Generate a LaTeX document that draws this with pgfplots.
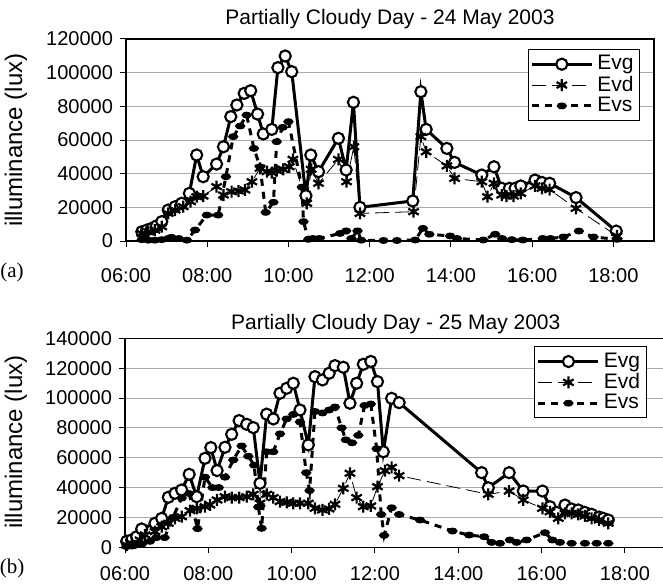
\documentclass[border=0pt]{standalone}
\usepackage{fontspec}
\setmainfont{Liberation Sans}
\newfontfamily\serifab{Liberation Serif}
\usepackage{pgfplots}
\pgfplotsset{compat=1.18}

\pgfplotsset{
  illum/.style={
    scale only axis,
    xmin=6, xmax=19, ymin=0,
    scaled y ticks=false,
    xtick={6,8,...,18},
    xticklabels={06:00,08:00,10:00,12:00,14:00,16:00,18:00},
    tick align=outside, major tick length=3pt,
    xtick pos=bottom, ytick pos=left,
    ymajorgrids, grid style={gray!65, line width=0.5pt},
    axis line style={line width=0.6pt},
    tick style={black, line width=0.5pt},
    tick label style={font=\fontsize{10}{11}\selectfont},
    legend cell align=left,
    legend style={font=\fontsize{10.5}{11}\selectfont, draw=black, line width=0.5pt,
      inner sep=1pt, row sep=-2.5pt},
    legend image code/.code={\draw[#1,mark repeat=2,mark phase=2] plot coordinates {(0pt,0pt)(15pt,0pt)(30pt,0pt)};},
  },
  evg/.style={black, line width=1.5pt, mark=*, mark size=2.8pt,
    mark options={solid, fill=white, line width=1.05pt}},
  evd/.style={black, line width=0.4pt, dash pattern=on 7pt off 3pt, mark=asterisk,
    mark size=3pt, mark options={solid, line width=1.1pt}},
  evs/.style={black, line width=1.5pt, dash pattern=on 3.5pt off 3pt, mark=*,
    mark size=0.95pt, mark options={solid, xscale=1.8}},
}

\begin{document}
\begin{tikzpicture}
\useasboundingbox (0,0) rectangle (331.5pt,-291.5pt);

% (a) 24 May
\begin{axis}[illum,
  at={(63pt,-120.5pt)}, anchor=south west,
  width=264pt, height=101pt,
  ymax=120000, ytick={0,20000,...,120000},
  yticklabels={0,20000,40000,60000,80000,100000,120000},
  xticklabel style={yshift=-7pt},
  title={Partially Cloudy Day - 24 May 2003},
  title style={font=\fontsize{10.5}{12}\selectfont, at={(0.5,1)}, anchor=base, yshift=1pt},
  legend style={at={(1,1)}, anchor=north east, xshift=-7pt, yshift=-5pt},
]
\addplot[evg] coordinates {(6.39,5500)(6.51,6500)(6.63,7500)(6.75,9000)(6.88,11500)(7.04,18400)(7.21,20400)(7.37,22400)(7.56,28300)(7.74,51100)(7.90,38200)(8.23,45700)(8.40,56000)(8.58,73900)(8.73,80800)(8.91,87700)(9.07,89300)(9.24,75400)(9.38,63600)(9.59,66300)(9.74,103000)(9.92,109900)(10.08,100600)(10.43,26900)(10.55,51100)(10.74,41200)(11.23,61000)(11.42,42200)(11.60,82400)(11.76,20000)(13.06,23800)(13.26,88700)(13.39,66300)(13.90,55000)(14.09,46700)(14.76,39200)(15.06,44100)(15.25,31300)(15.44,31300)(15.58,31300)(15.72,32700)(16.07,36200)(16.24,34800)(16.43,34300)(17.08,25800)(18.07,5900)};
\addlegendentry{Evg}
\addplot[evd] coordinates {(6.39,4500)(6.55,5500)(6.71,6500)(6.88,8500)(7.04,16400)(7.21,18400)(7.41,20400)(7.59,23400)(7.74,26300)(7.90,26700)(8.23,32300)(8.40,27300)(8.60,29300)(8.77,29700)(8.93,30300)(9.10,35200)(9.30,43200)(9.47,41200)(9.59,40600)(9.71,41800)(9.87,42600)(10.02,44100)(10.11,48500)(10.45,22400)(10.56,42600)(10.74,34300)(11.23,48500)(11.43,35200)(11.61,56000)(11.76,16400)(13.08,17400)(13.26,62000)(13.39,53000)(13.90,44600)(14.09,37200)(14.76,35200)(14.90,26300)(15.06,34300)(15.25,27300)(15.37,26700)(15.54,26700)(15.72,28300)(16.07,32700)(16.24,31300)(16.43,30500)(17.08,19400)(18.09,3000)};
\addlegendentry{Evd}
\addplot[evs] coordinates {(6.39,800)(6.55,500)(6.71,500)(6.88,800)(7.04,1500)(7.12,2200)(7.30,1500)(7.50,500)(7.70,6500)(7.99,15400)(8.27,15400)(8.46,38200)(8.64,62000)(8.81,68300)(8.97,74800)(9.15,55000)(9.30,44100)(9.44,17000)(9.63,23000)(9.71,59000)(9.86,67500)(10.00,70900)(10.33,32000)(10.37,11500)(10.49,1000)(10.60,1500)(10.76,1500)(11.27,4500)(11.42,6000)(11.55,1500)(11.70,6000)(11.79,500)(12.34,300)(12.67,300)(13.12,600)(13.31,7500)(13.47,4000)(13.98,3000)(14.15,1500)(14.80,600)(15.09,4000)(15.26,1500)(15.50,800)(15.77,600)(16.26,1500)(16.45,1500)(16.77,2400)(17.15,5900)(17.51,2400)(18.09,1000)};
\addlegendentry{Evs}
\end{axis}

% (b) 25 May
\begin{axis}[illum,
  at={(62.5pt,-273.65pt)}, anchor=south west,
  width=270.8pt, height=104.5pt,
  ymax=140000, ytick={0,20000,...,140000},
  yticklabels={0,20000,40000,60000,80000,100000,120000,140000},
  xticklabel style={yshift=-3pt},
  title={Partially Cloudy Day - 25 May 2003},
  title style={font=\fontsize{10.5}{12}\selectfont, at={(0.5,1)}, anchor=base, yshift=-1.7pt},
  legend style={at={(1,1)}, anchor=north east, xshift=-10pt, yshift=-4pt},
]
\addplot[evg] coordinates {(6.04,4000)(6.16,5000)(6.28,7100)(6.40,12300)(6.72,16100)(6.88,19400)(7.04,33500)(7.20,36200)(7.36,38400)(7.54,48900)(7.72,33900)(7.92,59600)(8.06,66800)(8.21,51400)(8.40,67000)(8.56,75700)(8.74,84900)(8.92,82400)(9.08,80200)(9.24,42900)(9.40,89200)(9.56,86000)(9.72,103200)(9.88,106500)(10.04,109900)(10.20,92000)(10.40,68600)(10.56,114300)(10.74,112100)(10.90,116600)(11.04,121700)(11.24,120600)(11.40,96500)(11.56,109900)(11.72,122600)(11.90,124500)(12.06,111000)(12.20,64000)(12.40,99800)(12.58,96900)(14.56,50000)(14.72,39900)(15.22,50000)(15.56,37700)(16.02,37700)(16.20,27200)(16.36,23400)(16.56,28300)(16.72,25700)(16.88,25000)(17.04,23400)(17.20,22100)(17.38,20300)(17.48,19400)(17.60,18300)};
\addlegendentry{Evg}
\addplot[evd] coordinates {(6.04,1500)(6.16,2700)(6.36,4900)(6.48,8300)(6.72,10500)(6.88,13800)(7.04,16100)(7.20,19400)(7.36,20500)(7.56,24600)(7.72,26100)(7.92,27200)(8.04,28400)(8.21,31700)(8.40,33900)(8.56,33300)(8.74,33300)(8.92,33900)(9.08,35500)(9.24,29500)(9.40,35500)(9.56,33300)(9.72,30600)(9.88,30100)(10.04,29500)(10.20,29500)(10.40,29500)(10.56,26100)(10.74,25000)(10.90,25700)(11.04,28800)(11.24,39500)(11.40,49600)(11.56,33300)(11.72,27200)(11.90,27700)(12.06,40600)(12.24,51300)(12.40,53600)(12.58,48000)(14.72,35500)(15.22,37700)(15.56,31700)(16.02,26100)(16.20,23800)(16.40,19400)(16.56,22800)(16.72,22800)(16.88,22100)(17.04,21000)(17.20,19400)(17.38,18300)(17.60,16100)};
\addlegendentry{Evd}
\addplot[evs] coordinates {(6.04,500)(6.20,1000)(6.40,2000)(6.60,4000)(6.75,6500)(6.95,6500)(7.15,20000)(7.36,33000)(7.54,36000)(7.74,12500)(7.92,47000)(8.10,40000)(8.25,40000)(8.40,47000)(8.60,58500)(8.80,67900)(8.96,61000)(9.10,55000)(9.20,27000)(9.28,12700)(9.40,64000)(9.56,64000)(9.72,76000)(9.88,86000)(10.04,89000)(10.20,84000)(10.35,50000)(10.43,38000)(10.56,91000)(10.74,90000)(10.90,92000)(11.04,94000)(11.20,80000)(11.30,72000)(11.45,70000)(11.60,75000)(11.75,95000)(11.90,96000)(12.04,66000)(12.15,22000)(12.22,8000)(12.40,26500)(12.58,22000)(13.08,18300)(13.86,10900)(14.26,8200)(14.62,7100)(14.80,3300)(15.00,2700)(15.24,4900)(15.40,3300)(15.64,4900)(16.08,9800)(16.26,4900)(16.44,3300)(16.72,2700)(17.04,2700)(17.32,2700)(17.60,2700)};
\addlegendentry{Evs}
\end{axis}

\node[rotate=90, font=\fontsize{12}{14}\selectfont] at (8pt,-70pt) {illuminance (lux)};
\node[rotate=90, font=\fontsize{12}{14}\selectfont] at (8pt,-221pt) {illuminance (lux)};
\node[font=\serifab\fontsize{10.5}{12}\selectfont] at (6pt,-136pt) {(a)};
\node[font=\serifab\fontsize{10.5}{12}\selectfont] at (6pt,-284pt) {(b)};
\end{tikzpicture}
\end{document}
